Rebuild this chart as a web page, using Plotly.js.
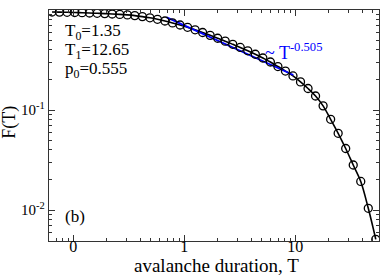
<!DOCTYPE html>
<html>
<head>
<meta charset="utf-8">
<script src="https://cdn.plot.ly/plotly-3.0.1.min.js"></script>
<style>html,body{margin:0;padding:0;background:#fff;}#plot{width:382px;height:276px;}</style>
</head>
<body>
<div id="plot"></div>
<script>
// avalanche duration T (log-binned)
var durationT = [0.0643, 0.0751, 0.0879, 0.103, 0.120, 0.140, 0.164, 0.192, 0.224, 0.262,
  0.307, 0.358, 0.419, 0.490, 0.573, 0.669, 0.783, 0.915, 1.070, 1.251,
  1.462, 1.709, 1.998, 2.336, 2.732, 3.193, 3.732, 4.363, 5.100, 5.963,
  6.971, 8.150, 9.528, 11.14, 13.02, 15.22, 17.80, 20.81, 24.32, 28.44,
  33.25, 38.87, 45.44, 53.1];
// cumulative distribution F(T)
var cumF = [0.955, 0.953, 0.948, 0.944, 0.940, 0.933, 0.927, 0.920, 0.912, 0.904,
  0.893, 0.879, 0.859, 0.836, 0.807, 0.776, 0.743, 0.708, 0.671, 0.634,
  0.596, 0.558, 0.522, 0.488, 0.454, 0.422, 0.391, 0.361, 0.331, 0.302,
  0.272, 0.245, 0.219, 0.191, 0.164, 0.138, 0.110, 0.0807, 0.0585, 0.0412,
  0.0282, 0.0193, 0.0104, 0.00509];
// power-law guide ~ T^-0.505
var powerT = [0.694, 9.6];
var powerF = [0.845, 0.224];

var xTickVals = [0.1, 1, 10];
var xTickText = ['0', '1', '10'];
var yTickVals = [0.01, 0.1, 1];
var yTickText = ['10<sup>-2</sup>', '10<sup>-1</sup>', '10<sup>0</sup>'];

function minorVals(lo, hi) {
  var v = [];
  for (var e = lo; e <= hi; e++) for (var m = 2; m <= 9; m++) v.push(m * Math.pow(10, e));
  return v;
}

var FONT = 'Liberation Serif';

var traces = [
  {x: durationT, y: cumF, mode: 'lines', line: {color: '#000', width: 1.6, shape: 'spline'},
   hoverinfo: 'skip', showlegend: false},
  {x: powerT, y: powerF, mode: 'lines', line: {color: '#0000ff', width: 1.8}, showlegend: false},
  {x: durationT, y: cumF, mode: 'markers', showlegend: false,
   marker: {symbol: 'circle-open', size: 8, color: '#000', line: {color: '#000', width: 1.3}}}
];

var axisCommon = {
  type: 'log', showgrid: false, zeroline: false, showline: true, linecolor: '#333', linewidth: 1.3,
  mirror: 'allticks', ticks: 'inside', ticklen: 6, tickwidth: 1, tickcolor: '#333'
};

var layout = {
  width: 382, height: 276,
  margin: {l: 49, r: 3, t: 10, b: 35},
  paper_bgcolor: '#fff', plot_bgcolor: '#fff',
  font: {family: FONT, color: '#000'},
  xaxis: Object.assign({}, axisCommon, {
    range: [-1.219, 1.754], tickmode: 'array', tickvals: xTickVals, ticktext: xTickText,
    ticklabelstandoff: -10,
    tickfont: {family: FONT, size: 16, color: '#000'},
    minor: {tickmode: 'array', tickvals: minorVals(-2, 1), ticks: 'inside', ticklen: 3, tickcolor: '#333', showgrid: false}
  }),
  yaxis: Object.assign({}, axisCommon, {
    range: [-2.31, 0], tickmode: 'array', tickvals: yTickVals, ticktext: yTickText,
    ticklabelstandoff: 0,
    tickfont: {family: FONT, size: 15, color: '#000'},
    minor: {tickmode: 'array', tickvals: minorVals(-3, -1), ticks: 'inside', ticklen: 3, tickcolor: '#333', showgrid: false}
  }),
  annotations: [
    {xref: 'paper', yref: 'paper', x: 0.042, y: 0.906, xanchor: 'left', yanchor: 'middle', showarrow: false,
     text: 'T<sub>0</sub>=1.35', font: {family: FONT, size: 17, color: '#000'}},
    {xref: 'paper', yref: 'paper', x: 0.042, y: 0.824, xanchor: 'left', yanchor: 'middle', showarrow: false,
     text: 'T<sub>1</sub>=12.65', font: {family: FONT, size: 17, color: '#000'}},
    {xref: 'paper', yref: 'paper', x: 0.042, y: 0.740, xanchor: 'left', yanchor: 'middle', showarrow: false,
     text: 'p<sub>0</sub>=0.555', font: {family: FONT, size: 17, color: '#000'}},
    {xref: 'paper', yref: 'paper', x: 0.042, y: 0.104, xanchor: 'left', yanchor: 'middle', showarrow: false,
     text: '(b)', font: {family: FONT, size: 17, color: '#000'}},
    {xref: 'paper', yref: 'paper', x: 0.648, y: 0.822, xanchor: 'left', yanchor: 'middle', showarrow: false,
     text: '~ T<sup>-0.505</sup>', font: {family: FONT, size: 18, color: '#0000ff'}},
    {xref: 'paper', yref: 'paper', x: 0.508, y: -0.107, xanchor: 'center', yanchor: 'middle', showarrow: false,
     text: 'avalanche duration, T', font: {family: FONT, size: 19, color: '#000'}},
    {xref: 'paper', yref: 'paper', x: -0.122, y: 0.515, xanchor: 'center', yanchor: 'middle', showarrow: false,
     textangle: -90, text: 'F(T)', font: {family: FONT, size: 18, color: '#000'}}
  ]
};

Plotly.newPlot('plot', traces, layout, {displayModeBar: false, staticPlot: true});
</script>
</body>
</html>
